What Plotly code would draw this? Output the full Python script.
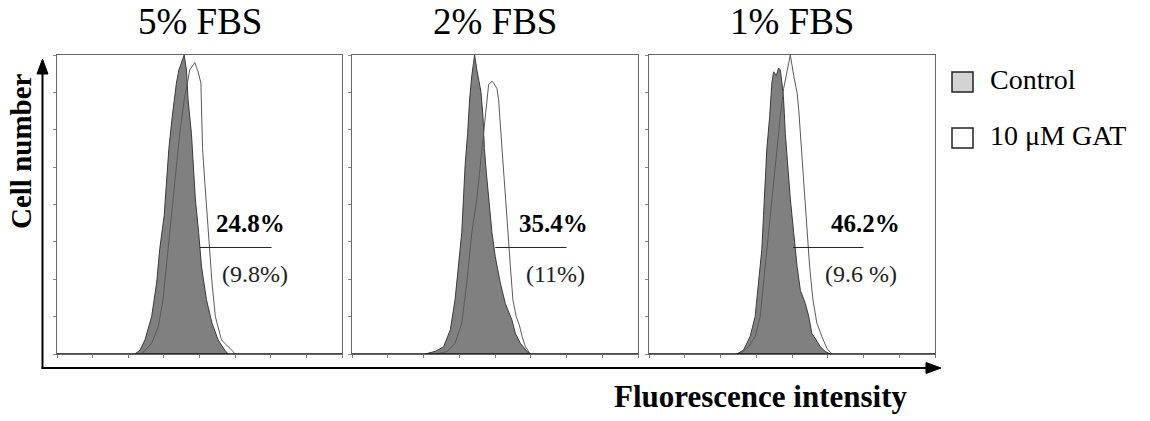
import plotly.graph_objects as go

# Flow-cytometry histograms: channel (0-1024) vs. cell count, one panel per serum level
panel_titles = ["5% FBS", "2% FBS", "1% FBS"]
series_names = ["Control", "10 μM GAT"]

ctrl_5_ch = [280, 298, 316, 340, 358, 369, 385, 393, 402, 414, 429, 438, 457, 465, 471,
             483, 489, 497, 509, 519, 537, 557, 579, 603, 615]
ctrl_5_n = [0, 2, 7.5, 20, 38, 56, 74, 92, 110, 127, 145, 152, 160, 152, 136,
            118, 101, 83, 65, 47, 29, 16.5, 7.5, 2, 0]
gat_5_ch = [304, 340, 364, 381, 393, 405, 417, 429, 441, 457, 469, 477, 495, 507, 517,
            519, 523, 531, 540, 549, 557, 569, 591, 615, 633, 638]
gat_5_n = [0, 5.7, 14.7, 29, 47, 65, 83, 101, 118, 136, 145, 152, 156, 151, 145,
           127, 110, 92, 74, 56, 38, 20, 7.5, 3.9, 1.3, 0]

ctrl_2_ch = [262, 280, 300, 328, 352, 369, 381, 393, 399, 405, 414, 421, 429, 439, 447,
             453, 462, 469, 474, 481, 489, 501, 513, 531, 549, 567, 573, 585, 603, 627, 638]
ctrl_2_n = [0, 0.8, 1.5, 3.9, 12.9, 29, 47, 65, 83, 101, 118, 136, 149, 160, 152,
            147, 140, 127, 110, 97, 83, 65, 52, 38, 27, 20, 18, 11, 5.7, 1.3, 0]
gat_2_ch = [304, 340, 369, 393, 411, 429, 447, 459, 465, 477, 483, 489, 501, 507, 519,
            525, 529, 533, 537, 543, 549, 557, 567, 576, 588, 600, 609, 621, 638]
gat_2_n = [0, 1.3, 5.7, 16.5, 38, 65, 83, 101, 110, 127, 138, 144, 146, 145, 142,
           136, 127, 118, 113, 95, 83, 65, 47, 29, 20, 15, 9.3, 3.9, 0]

ctrl_1_ch = [314, 338, 362, 380, 392, 404, 410, 416, 422, 432, 440, 446, 456, 464, 470,
             476, 482, 488, 496, 506, 518, 530, 542, 560, 572, 583, 599, 613, 631, 649]
ctrl_1_n = [0, 2, 9.3, 20, 38, 56, 74, 92, 110, 127, 145, 151, 149, 153, 152,
            145, 136, 118, 101, 83, 65, 47, 34, 27, 20, 11, 7.5, 3.9, 1.3, 0]
gat_1_ch = [326, 356, 380, 398, 410, 422, 434, 446, 458, 470, 482, 494, 506, 518, 530,
            536, 542, 548, 556, 566, 575, 587, 601, 619, 637, 655]
gat_1_n = [0, 3.9, 9.3, 20, 38, 56, 74, 92, 110, 127, 142, 151, 160, 149, 140,
           131, 118, 101, 83, 65, 47, 29, 16.5, 9.3, 3, 0]

# Marker gate (start/end channel) and its height, with the positive fractions
gate_start = [513, 513, 516]
gate_end = [771, 768, 768]
gate_level = 57
gat_positive = ["24.8%", "35.4%", "46.2%"]
ctrl_positive = ["(9.8%)", "(11%)", "(9.6 %)"]

control_series = [(ctrl_5_ch, ctrl_5_n), (ctrl_2_ch, ctrl_2_n), (ctrl_1_ch, ctrl_1_n)]
gat_series = [(gat_5_ch, gat_5_n), (gat_2_ch, gat_2_n), (gat_1_ch, gat_1_n)]

W, H = 1150, 421
SERIF = "Liberation Serif, Times New Roman, serif"


def px(x):
    return x / W


def py(y):
    return 1 - y / H


panel_px = [(57, 342), (352, 638), (649, 935)]
top_px, bottom_px = 55, 354
label_x = [(694, 712), (721, 728), (776, 759)]  # centre channel of each label

fig = go.Figure()
layout_axes = {}
shapes = []
annotations = []

for i in range(3):
    sfx = "" if i == 0 else str(i + 1)
    xa, ya = "x" + sfx, "y" + sfx
    cx, cn = control_series[i]
    gx, gn = gat_series[i]
    fig.add_trace(go.Scatter(x=cx, y=cn, xaxis=xa, yaxis=ya, mode="lines",
                             fill="tozeroy", fillcolor="#808080",
                             line=dict(color="#3a3a3a", width=1),
                             name=series_names[0], showlegend=False))
    fig.add_trace(go.Scatter(x=gx, y=gn, xaxis=xa, yaxis=ya, mode="lines",
                             line=dict(color="#5a5a5a", width=1),
                             name=series_names[1], showlegend=False))
    l, r = panel_px[i]
    layout_axes["xaxis" + sfx] = dict(
        domain=[px(l), px(r)], range=[0, 1024], anchor=ya,
        showgrid=False, zeroline=False, showticklabels=False,
        tickmode="linear", tick0=0, dtick=128, ticks="outside", ticklen=3,
        tickcolor="#777", showline=True, mirror=True, linecolor="#666", linewidth=1)
    layout_axes["yaxis" + sfx] = dict(
        domain=[py(bottom_px), py(top_px)], range=[0, 160], anchor=xa,
        showgrid=False, zeroline=False, showticklabels=False,
        tickmode="linear", tick0=0, dtick=20, ticks="outside", ticklen=3,
        tickcolor="#888", showline=True, mirror=True, linecolor="#666", linewidth=1)
    # dark baseline of each histogram
    shapes.append(dict(type="line", xref=xa, yref=ya, x0=0, x1=1024, y0=0, y1=0,
                       line=dict(color="#111", width=1.6)))
    # gate marker
    shapes.append(dict(type="line", xref=xa, yref=ya, x0=gate_start[i], x1=gate_end[i],
                       y0=gate_level, y1=gate_level, line=dict(color="#222", width=1)))
    annotations.append(dict(xref=xa, yref=ya, x=label_x[i][0], y=gate_level + 13,
                            text="<b>" + gat_positive[i] + "</b>", showarrow=False,
                            xanchor="center", yanchor="middle",
                            font=dict(family=SERIF, size=25, color="#000")))
    annotations.append(dict(xref=xa, yref=ya, x=label_x[i][1], y=gate_level - 14,
                            text=ctrl_positive[i], showarrow=False,
                            xanchor="center", yanchor="middle",
                            font=dict(family=SERIF, size=24, color="#222")))
    annotations.append(dict(xref="paper", yref="paper", x=px((l + r) / 2), y=py(22),
                            text=panel_titles[i], showarrow=False,
                            xanchor="center", yanchor="middle",
                            font=dict(family=SERIF, size=37, color="#000")))

# outer axes with arrowheads
ax_x, ax_y = 42.5, 368
shapes.append(dict(type="line", xref="paper", yref="paper", x0=px(ax_x), x1=px(ax_x),
                   y0=py(ax_y + 1), y1=py(72), line=dict(color="#000", width=2)))
shapes.append(dict(type="path", xref="paper", yref="paper", fillcolor="#000",
                   line=dict(color="#000", width=1),
                   path=f"M {px(ax_x)} {py(59)} L {px(ax_x - 5.5)} {py(74)} "
                        f"L {px(ax_x + 5.5)} {py(74)} Z"))
shapes.append(dict(type="line", xref="paper", yref="paper", x0=px(ax_x - 1), x1=px(928),
                   y0=py(ax_y), y1=py(ax_y), line=dict(color="#000", width=2)))
shapes.append(dict(type="path", xref="paper", yref="paper", fillcolor="#000",
                   line=dict(color="#000", width=1),
                   path=f"M {px(941)} {py(ax_y)} L {px(926)} {py(ax_y - 5.5)} "
                        f"L {px(926)} {py(ax_y + 5.5)} Z"))

annotations.append(dict(xref="paper", yref="paper", x=px(21), y=py(151),
                        text="<b>Cell number</b>", textangle=-90, showarrow=False,
                        xanchor="center", yanchor="middle",
                        font=dict(family=SERIF, size=29, color="#000")))
annotations.append(dict(xref="paper", yref="paper", x=px(761), y=py(396),
                        text="<b>Fluorescence intensity</b>", showarrow=False,
                        xanchor="center", yanchor="middle",
                        font=dict(family=SERIF, size=31, color="#000")))

# legend keys
legend_fill = ["#d3d3d3", "#ffffff"]
legend_y = [82, 138]
for name, fill, yc in zip(series_names, legend_fill, legend_y):
    shapes.append(dict(type="rect", xref="paper", yref="paper",
                       x0=px(952), x1=px(973), y0=py(yc - 10), y1=py(yc + 10),
                       fillcolor=fill, line=dict(color="#222", width=1.5)))
    annotations.append(dict(xref="paper", yref="paper", x=px(988), y=py(yc - 2),
                            text=name, showarrow=False, xanchor="left", yanchor="middle",
                            font=dict(family=SERIF, size=28, color="#000")))

fig.update_layout(width=W, height=H, margin=dict(l=0, r=0, t=0, b=0),
                  paper_bgcolor="white", plot_bgcolor="white",
                  shapes=shapes, annotations=annotations, showlegend=False,
                  **layout_axes)

fig.write_html("out.html")
